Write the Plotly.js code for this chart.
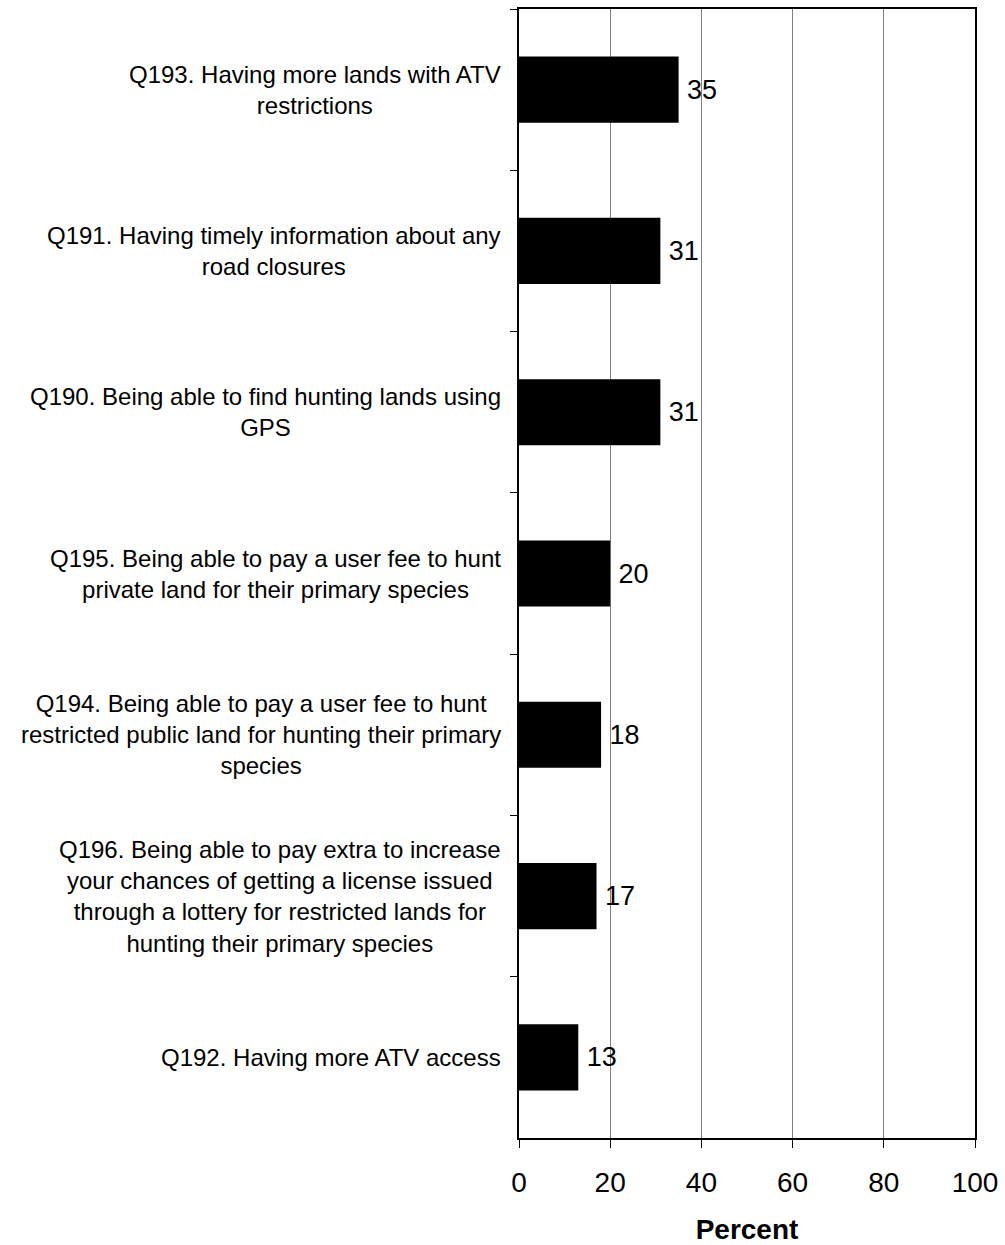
<!DOCTYPE html>
<html>
<head>
<meta charset="utf-8">
<script src="https://cdn.plot.ly/plotly-3.0.1.min.js"></script>
<style>html,body{margin:0;padding:0;background:#fff;}#chart{width:1005px;height:1245px;}</style>
</head>
<body>
<div id="chart"></div>
<script>
const categories = ["Q193", "Q191", "Q190", "Q195", "Q194", "Q196", "Q192"];
const labels = [
  "Q193. Having more lands with ATV<br>restrictions",
  "Q191. Having timely information about any<br>road closures",
  "Q190. Being able to find hunting lands using<br>GPS",
  "Q195. Being able to pay a user fee to hunt<br>private land for their primary species",
  "Q194. Being able to pay a user fee to hunt<br>restricted public land for hunting their primary<br>species",
  "Q196. Being able to pay extra to increase<br>your chances of getting a license issued<br>through a lottery for restricted lands for<br>hunting their primary species",
  "Q192. Having more ATV access"
];
const values = [35, 31, 31, 20, 18, 17, 13];
const xTicks = [0, 20, 40, 60, 80, 100];

const font = "Arial, 'Liberation Sans', sans-serif";

const trace = {
  type: "bar",
  orientation: "h",
  y: categories,
  x: values,
  width: 0.41,
  marker: {color: "#000000", line: {width: 0}},
  text: values.map(v => "\u2009" + v),
  textposition: "outside",
  textfont: {family: font, size: 27, color: "#000"},
  cliponaxis: false,
  hoverinfo: "none"
};

const annotations = categories.map((c, i) => ({
  xref: "paper", yref: "y", x: 0, y: c,
  xanchor: "right", yanchor: "middle", xshift: -16,
  text: labels[i], align: "center", showarrow: false,
  font: {family: font, size: 24, color: "#000"}
}));

const layout = {
  width: 1005, height: 1245,
  margin: {l: 519, r: 30, t: 9, b: 107},
  paper_bgcolor: "#fff", plot_bgcolor: "#fff",
  showlegend: false,
  bargap: 0.59,
  xaxis: {
    range: [0, 100], tickvals: xTicks, ticktext: xTicks.map(String),
    showgrid: true, gridcolor: "#808080", gridwidth: 1,
    zeroline: false, showline: true, mirror: true, linecolor: "#000", linewidth: 2,
    ticks: "outside", ticklen: 8, tickcolor: "#000", tickwidth: 1,
    ticklabelstandoff: 10,
    tickfont: {family: font, size: 28, color: "#000"},
    title: {text: "<b>Percent</b>", font: {family: font, size: 28, color: "#000"}, standoff: 27},
    fixedrange: true
  },
  yaxis: {
    type: "category", autorange: "reversed",
    showticklabels: false, showgrid: false, zeroline: false,
    showline: true, mirror: true, linecolor: "#000", linewidth: 2,
    ticks: "outside", tickson: "boundaries", ticklen: 7, tickcolor: "#000", tickwidth: 1,
    fixedrange: true
  },
  annotations: annotations
};

Plotly.newPlot("chart", [trace], layout, {displayModeBar: false, staticPlot: true});
</script>
</body>
</html>
